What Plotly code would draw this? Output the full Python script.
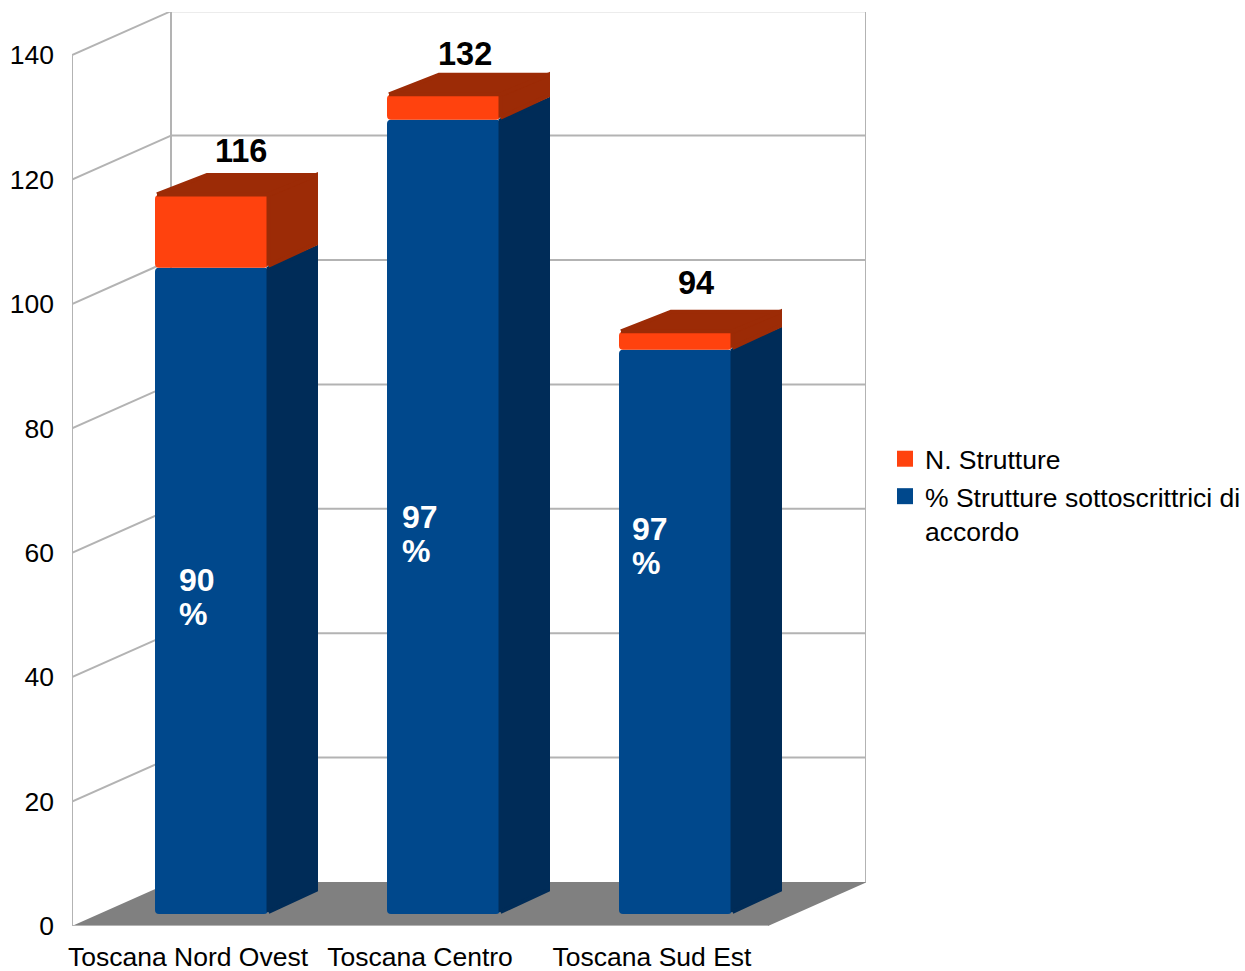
import plotly.graph_objects as go

# ---- data ----
categories = ["Toscana Nord Ovest", "Toscana Centro", "Toscana Sud Est"]
n_strutture = [116, 132, 94]
pct_accordo = [90, 97, 97]
blue_height = [103.9, 127.7, 90.7]
total_height = [115.6, 131.7, 93.6]
pct_label_y = [52.9, 63.0, 61.1]
y_ticks = [0, 20, 40, 60, 80, 100, 120, 140]
series_names = ["N. Strutture", "% Strutture sottoscrittrici di<br>accordo"]

# ---- geometry of the oblique 3D look (axis units) ----
PX_X = 232.0            # pixels per category
PX_Y = 6.22             # pixels per y unit
W, H = 1245, 971
L, R, T, B = 72, 866, 12, 926
x_min = -0.5
x_max = x_min + (R - L) / PX_X
y_max = (B - T) / PX_Y
front_end = 2.5
depth_x = 99 / PX_X
depth_y = 44 / PX_Y
bar_dx = 23.5 / PX_X
bar_base = 12 / PX_Y
bar_w = 113 / PX_X
side_x = 50 / PX_X
side_y = 22 / PX_Y
ix = 2 / PX_X
iy = 2 / PX_Y
in_x = 0.5 / PX_X
in_y = 0.5 / PX_Y

BLUE, BLUE_D = "#00488c", "#002c58"
ORANGE, ORANGE_D = "#ff420e", "#9c2b06"
GRID = "#b3b3b3"
FLOOR = "#808080"
FONT = "Liberation Sans"

xs = list(range(len(categories)))
orange = [t - b for t, b in zip(total_height, blue_height)]
blue_top = [bar_base + b for b in blue_height]
total_top = [bar_base + t for t in total_height]

fig = go.Figure()


def poly(px, py, color):
    fig.add_trace(go.Scatter(
        x=px, y=py, mode="lines", fill="toself", fillcolor=color,
        line=dict(color=color, width=4), showlegend=False, hoverinfo="skip"))


# front faces
fig.add_trace(go.Bar(x=[i + bar_dx for i in xs], y=blue_height, base=[bar_base] * 3, width=bar_w,
                     marker=dict(color=BLUE, line=dict(width=0), cornerradius=4),
                     showlegend=False, hoverinfo="skip"))
fig.add_trace(go.Bar(x=[i + bar_dx for i in xs], y=orange, base=blue_top, width=bar_w,
                     marker=dict(color=ORANGE, line=dict(width=0), cornerradius=4),
                     showlegend=False, hoverinfo="skip"))

# side and top faces (inset by half the rounded outline)
for i in xs:
    xr = i + bar_dx + bar_w / 2
    poly([xr + in_x, xr + side_x - ix, xr + side_x - ix, xr + in_x, xr + in_x],
         [bar_base + iy, bar_base + side_y + iy, blue_top[i] + side_y - iy,
          blue_top[i] - in_y, bar_base + iy], BLUE_D)
for i in xs:
    xl = i + bar_dx - bar_w / 2
    xr = i + bar_dx + bar_w / 2
    poly([xr + in_x, xr + side_x - ix, xr + side_x - ix, xr + in_x, xr + in_x],
         [blue_top[i] + iy, blue_top[i] + side_y + iy, total_top[i] + side_y - iy,
          total_top[i] - in_y, blue_top[i] + iy], ORANGE_D)
    poly([xl + ix, xl + side_x + ix, xr + side_x - ix, xr + in_x, xl + ix],
         [total_top[i] + in_y, total_top[i] + side_y - iy, total_top[i] + side_y - iy,
          total_top[i] + in_y, total_top[i] + in_y], ORANGE_D)

# legend entries
for name, color in zip(series_names, [ORANGE, BLUE]):
    fig.add_trace(go.Scatter(x=[None], y=[None], mode="markers", name=name,
                             marker=dict(symbol="square", size=16, color=color,
                                         line=dict(width=0))))

# walls and floor, below the traces
shapes = []
floor_path = (f"M {x_min},0 L {front_end},0 L {front_end + depth_x},{depth_y} "
              f"L {x_min + depth_x},{depth_y} Z")
shapes.append(dict(type="path", path=floor_path, fillcolor=FLOOR, line=dict(width=0),
                   xref="x", yref="y", layer="below"))


def seg(x0, y0, x1, y1):
    shapes.append(dict(type="line", x0=x0, y0=y0, x1=x1, y1=y1, xref="x", yref="y",
                       layer="below", line=dict(color=GRID, width=2)))


for t in y_ticks[1:]:
    seg(x_min, t, x_min + depth_x, t + depth_y)
    seg(x_min + depth_x, t + depth_y, x_max, t + depth_y)
seg(x_min, 0, x_min, y_ticks[-1])
seg(x_min + depth_x, depth_y, x_min + depth_x, y_ticks[-1] + depth_y)
seg(x_max, depth_y, x_max, y_ticks[-1] + depth_y)
seg(x_min, 0, front_end, 0)

# data labels
annotations = []
label_dx = [29 / PX_X, 21.5 / PX_X, 20.5 / PX_X]
label_dy = [44 / PX_Y, 41 / PX_Y, 49 / PX_Y]
for i in xs:
    annotations.append(dict(x=i + bar_dx + label_dx[i], y=total_top[i] + label_dy[i],
                            text=f"<b>{n_strutture[i]}</b>", showarrow=False,
                            xanchor="center", yanchor="middle",
                            font=dict(family=FONT, size=32.5, color="black")))
pct_dx = [-34.5 / PX_X, -43.5 / PX_X, -45.5 / PX_X]
for i in xs:
    left = i + bar_dx + pct_dx[i]
    for text, off in ((f"<b>{pct_accordo[i]}</b>", 17), ("<b>%</b>", -17)):
        annotations.append(dict(x=left, y=pct_label_y[i] + off / PX_Y, text=text,
                                showarrow=False, xanchor="left", yanchor="middle",
                                font=dict(family=FONT, size=32, color="white")))

fig.update_layout(
    width=W, height=H, autosize=False,
    margin=dict(l=L, r=W - R, t=T, b=H - B, pad=0, autoexpand=False),
    paper_bgcolor="white", plot_bgcolor="white",
    barmode="overlay", shapes=shapes, annotations=annotations,
    font=dict(family=FONT, size=26.5, color="black"),
    xaxis=dict(range=[x_min, x_max], tickmode="array", tickvals=xs, ticktext=categories,
               showgrid=False, zeroline=False, showline=False, ticks="", automargin=False,
               ticklabelstandoff=12, tickangle=0, tickfont=dict(size=26.5)),
    yaxis=dict(range=[0, y_max], tickmode="array", tickvals=y_ticks, automargin=False,
               showgrid=False, zeroline=False, showline=False, ticks="",
               ticklabelstandoff=17, tickfont=dict(size=26.5)),
    legend=dict(x=885 / W, y=1 - 435 / H, xanchor="left", yanchor="top",
                xref="container", yref="container", traceorder="normal", itemwidth=30,
                valign="top", font=dict(family=FONT, size=26.5), bgcolor="rgba(0,0,0,0)"),
)

fig.write_html("out.html", config={"displayModeBar": False},
               post_script="document.body.style.margin='0';")
